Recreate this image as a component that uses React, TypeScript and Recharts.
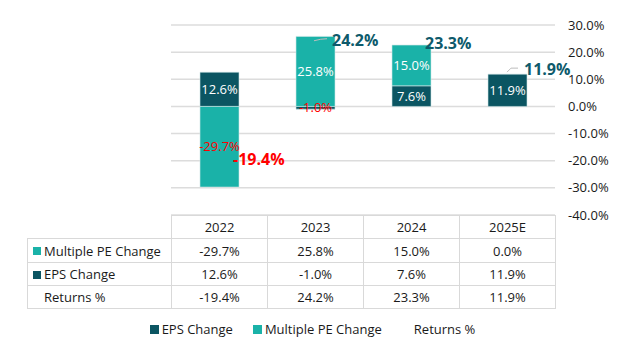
import React from 'react';
import { ComposedChart, Bar, Line, XAxis, YAxis, CartesianGrid, LabelList, Legend } from 'recharts';

const categories = ['2022', '2023', '2024', '2025E'];
const epsChange = [12.6, -1.0, 7.6, 11.9];
const multiplePeChange = [-29.7, 25.8, 15.0, 0.0];
const returnsPct = [-19.4, 24.2, 23.3, 11.9];
const yTicks = [-40, -30, -20, -10, 0, 10, 20, 30];

const DARK = '#0b5562';
const TEAL = '#1ab2a8';
const RED = '#ff0000';
const FONT = '"Open Sans", "Noto Sans", sans-serif';

const data = categories.map((c, i) => ({
  name: c,
  eps: epsChange[i],
  pe: multiplePeChange[i],
  ret: returnsPct[i],
}));

const fmt = (v: number) => `${v.toFixed(1)}%`;

const barLabel = (props: any) => {
  const { x, y, width, height, value } = props;
  if (value === 0 || value == null) return null;
  const cx = Number(x) + Number(width) / 2;
  const cy = Number(y) + Number(height) / 2;
  return (
    <text x={cx} y={cy} dy={4.5} textAnchor="middle" fontSize={13} fontFamily={FONT}
      fill={value < 0 ? RED : '#ffffff'}>
      {fmt(value)}
    </text>
  );
};

const returnLabel = (props: any) => {
  const { x, y, value, index } = props;
  const px = Number(x);
  const py = Number(y);
  const lifted = index === 3;
  const off = index === 1 || index === 3 ? 17 : 14;
  const ty = lifted ? py - 5 : py;
  return (
    <g>
      {index === 1 && (
        <path d={`M${px - 1},${py} Q${px + 6},${py - 2} ${px + 12},${py - 2}`} stroke="#bdbdbd" fill="none" strokeWidth={1} />
      )}
      {index === 3 && (
        <path d={`M${px},${py - 2} L${px + 4},${ty - 1} L${px + 11},${ty - 1}`} stroke="#bdbdbd" fill="none" strokeWidth={1} />
      )}
      <text x={px + off} y={ty} dy={5.5} textAnchor="start" fontSize={16} fontWeight="bold" fontFamily={FONT}
        fill={value < 0 ? RED : '#0e5a6b'}>
        {fmt(value)}
      </text>
    </g>
  );
};

const legendContent = (props: any) => {
  const payload = props.payload || [];
  return (
    <div style={{ display: 'flex', justifyContent: 'center', alignItems: 'center', fontFamily: FONT, fontSize: 13, color: '#1a1a1a' }}>
      {payload.map((e: any, i: number) => (
        <div key={i} style={{ display: 'flex', alignItems: 'center', marginRight: i < payload.length - 1 ? 20 : 0 }}>
          <span style={{ display: 'inline-block', width: 9, height: 9, background: e.dataKey === 'ret' ? 'transparent' : e.color, marginRight: 3 }} />
          <span>{e.value}</span>
        </div>
      ))}
    </div>
  );
};

const borderC = '1px solid #d9d9d9';
const cell: React.CSSProperties = { border: borderC, textAlign: 'center', padding: 0, fontSize: 13, color: '#1a1a1a' };

const tableRows = [
  { label: 'Multiple PE Change', color: TEAL, values: multiplePeChange, h: 24 },
  { label: 'EPS Change', color: DARK, values: epsChange, h: 23 },
  { label: 'Returns %', color: 'transparent', values: returnsPct, h: 23 },
];

export default function App() {
  return (
    <div style={{ position: 'absolute', left: 0, top: 0, width: 625, height: 351, background: '#fff', fontFamily: FONT }}>
      <ComposedChart width={625} height={351} data={data} stackOffset="sign"
        margin={{ top: 25, right: 0, left: 171, bottom: 136 }}>
        <CartesianGrid horizontal vertical={false} stroke="#dcdcdc" strokeWidth={1.5} />
        <XAxis dataKey="name" hide />
        <YAxis orientation="right" width={70} domain={[-40, 30]} ticks={yTicks} tickFormatter={fmt}
          axisLine={false} tickLine={false} tickMargin={7} interval={0}
          tick={{ fontSize: 13, fill: '#1a1a1a', fontFamily: FONT }} />
        <Bar dataKey="eps" name="EPS Change" stackId="a" fill={DARK} barSize={39} stroke="#cfe6e6" strokeWidth={0.6}
          legendType="square" isAnimationActive={false}>
          <LabelList dataKey="eps" content={barLabel} />
        </Bar>
        <Bar dataKey="pe" name="Multiple PE Change" stackId="a" fill={TEAL} barSize={39} stroke="#cfe6e6" strokeWidth={0.6}
          legendType="square" isAnimationActive={false}>
          <LabelList dataKey="pe" content={barLabel} />
        </Bar>
        <Line dataKey="ret" name="Returns %" stroke="transparent" dot={false} activeDot={false}
          legendType="square" isAnimationActive={false}>
          <LabelList dataKey="ret" content={returnLabel} />
        </Line>
        <Legend verticalAlign="middle" align="center" layout="horizontal" content={legendContent}
          wrapperStyle={{ top: 320, left: 0, width: 625 }} />
      </ComposedChart>
      <table style={{ position: 'absolute', left: 27, top: 215, borderCollapse: 'collapse', fontFamily: FONT, tableLayout: 'fixed' }}>
        <colgroup>
          <col style={{ width: 144 }} />
          {categories.map((c) => <col key={c} style={{ width: 96 }} />)}
        </colgroup>
        <tbody>
          <tr style={{ height: 23 }}>
            <td style={{ border: 'none', borderBottom: borderC, borderRight: borderC, padding: 0 }} />
            {categories.map((c) => <td key={c} style={cell}>{c}</td>)}
          </tr>
          {tableRows.map((r) => (
            <tr key={r.label} style={{ height: r.h }}>
              <td style={{ ...cell, textAlign: 'left', paddingLeft: 5, whiteSpace: 'nowrap' }}>
                <span style={{ display: 'inline-block', width: 8, height: 8, background: r.color, marginRight: 3, verticalAlign: 'middle', position: 'relative', top: -1 }} />
                {r.label}
              </td>
              {r.values.map((v, i) => <td key={i} style={cell}>{fmt(v)}</td>)}
            </tr>
          ))}
        </tbody>
      </table>
    </div>
  );
}
